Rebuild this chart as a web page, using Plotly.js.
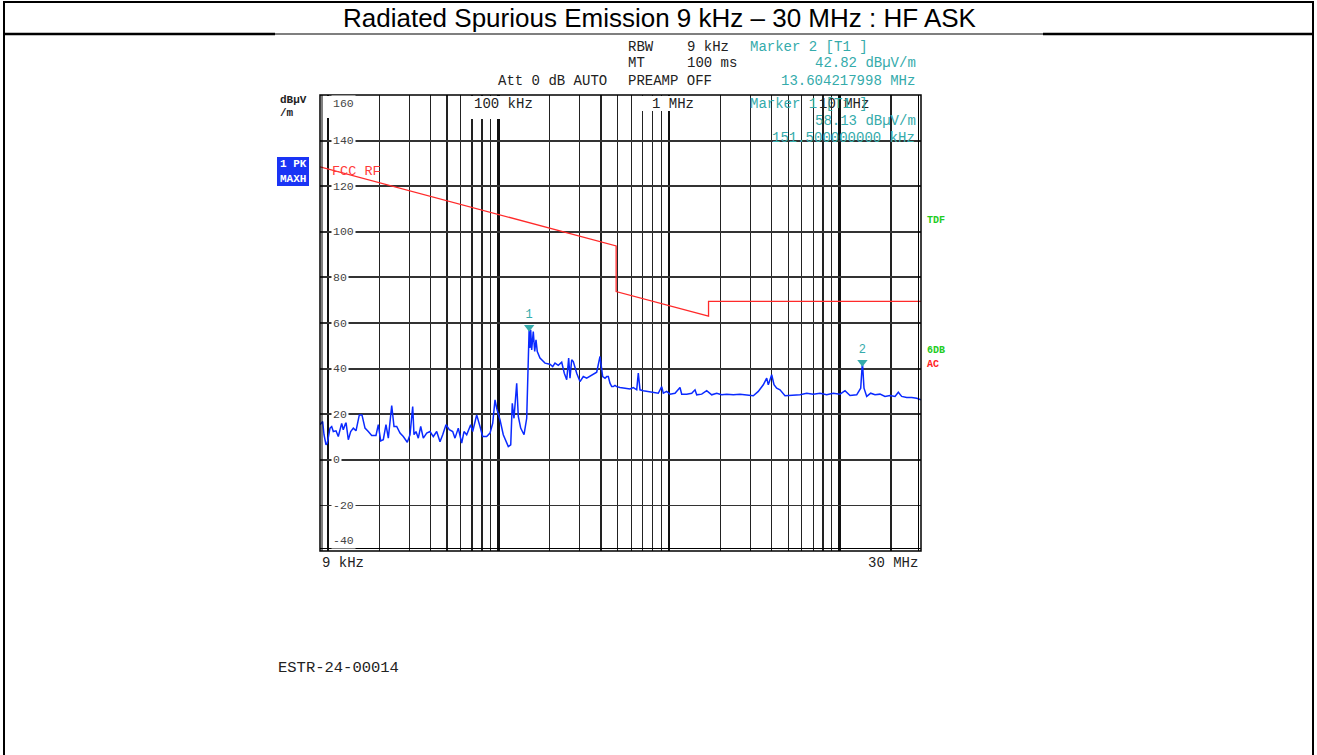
<!DOCTYPE html>
<html>
<head>
<meta charset="utf-8">
<script src="https://cdn.plot.ly/plotly-3.0.1.min.js"></script>
<style>html,body{margin:0;padding:0;background:#fff;}#chart{width:1317px;height:755px;}</style>
</head>
<body>
<div id="chart"></div>
<script>
// ---- data (frequencies in kHz, levels in dBuV/m) ----
const traceKHz = [9.00,9.33,9.50,9.76,9.93,10.30,10.54,10.77,11.17,11.52,12.06,12.32,12.78,13.19,13.62,14.11,14.63,15.30,15.86,16.52,17.27,18.08,19.16,19.77,20.42,21.15,21.93,22.63,23.69,24.44,25.34,26.50,27.70,29.24,30.32,31.45,32.01,32.88,33.92,35.04,36.29,37.99,39.72,41.53,43.48,45.46,47.15,49.29,51.54,53.96,55.66,58.19,60.93,62.85,65.18,68.80,70.68,74.60,78.00,80.89,85.38,89.27,92.59,95.51,97.73,102.2,106.8,110.8,114.3,118.1,120.6,123.4,128.0,130.8,135.1,141.3,146.5,151.5,153.0,154.6,156.7,160.1,163.2,166.1,169.0,175.3,187.6,200.6,208.1,214.6,224.4,235.0,243.4,251.4,258.2,262.8,268.9,274.8,287.7,300.8,314.5,329.2,352.2,376.8,394.0,408.6,421.5,431.3,440.7,450.9,461.4,471.5,482.4,493.6,516.1,552.1,590.7,617.6,646.6,660.7,676.1,706.8,756.2,808.9,865.4,906.1,925.9,969.4,1013.6,1084.3,1160,1187,1270,1358.6,1420.4,1453.4,1554.8,1663.3,1779.4,1903.7,2036.6,2178.7,2381.8,2607.2,2853.8,3119.9,3337.7,3570.6,3738,3819.7,3999.2,4125.2,4278.2,4473.2,4785.5,5238.6,5860.5,6414.4,7011.8,7674.2,8400.9,9184.5,10055,10757,11509,12596,13295,13604.2,13901,14417,15216,16126,17253,18458,19749,21129,22091,23110,24736,26461,28311,30000];
const traceDb = [15.4,16.8,11.0,6.6,7.3,13.9,14.6,12.4,12.7,10.2,16.0,13.2,16.5,8.8,12.4,13.9,12.7,19.7,19.7,13.9,12.4,10.7,10.7,15.4,8.3,8.8,15.4,9.5,23.8,14.6,14.6,11.7,10.2,7.7,11.0,23.4,11.0,12.4,9.5,14.6,9.5,11.7,12.4,10.2,12.4,7.9,11.0,15.4,13.2,12.4,9.5,13.9,7.3,12.4,11.0,15.4,12.4,19.7,14.6,10.2,10.2,11.7,16.0,26.3,22.6,17.5,11.0,8.0,5.8,6.6,24.8,18.2,33.6,19.0,13.9,11.0,18.2,58.13,49.0,57.0,48.2,56.3,47.5,52.6,47.5,44.6,42.4,41.9,40.9,42.4,41.4,42.8,38.0,35.1,44.6,35.8,43.9,43.1,38.0,34.3,36.5,35.8,37.3,38.4,45.3,36.5,35.8,36.5,36.5,33.6,32.1,32.1,32.6,32.1,31.7,31.4,31.1,31.7,30.7,38.0,30.7,30.3,30.0,29.5,29.2,32.1,29.2,30.0,28.8,29.2,31.7,28.8,28.8,29.2,30.7,28.5,28.8,30.3,28.5,29.2,28.5,28.8,28.5,28.8,28.5,28.1,30.0,32.9,35.8,32.9,37.3,32.9,31.4,30.7,28.1,28.2,28.5,29.2,28.8,29.2,28.5,29.2,28.8,30.3,28.2,28.5,31.4,42.82,31.4,27.8,29.2,28.5,28.8,27.8,28.2,27.8,29.6,27.8,27.3,27.3,27.0,26.3];
const limitKHz = [9, 490, 490, 1705, 1705, 30000];
const limitDb = [128.5, 93.8, 73.8, 63.0, 69.5, 69.5];
const markerKHz = [151.5, 13604.217998];
const markerDb = [58.13, 42.82];
const markerLabels = ['1', '2'];
const decadeTicksHz = [1e4, 1e5, 1e6, 1e7];
const minorTicksHz = [2e4,3e4,4e4,5e4,6e4,7e4,8e4,9e4,2e5,3e5,4e5,5e5,6e5,7e5,8e5,9e5,2e6,3e6,4e6,5e6,6e6,7e6,8e6,9e6,2e7,3e7];
const yTickVals = [160,140,120,100,80,60,40,20,0,-20,-40];

// ---- geometry helpers (pixel -> paper) ----
const L = 320, R = 921, T = 95, B = 551;
const P = x => (x - L) / (R - L);
const Q = y => (B - y) / (B - T);

const mono = 'Liberation Mono, Courier New, monospace';
const teal = '#35abab';

const traces = [
  {x: limitKHz.map(v => v * 1000), y: limitDb, mode: 'lines', line: {color: '#ff2a2a', width: 1.3}, hoverinfo: 'skip'},
  {x: traceKHz.map(v => v * 1000), y: traceDb, mode: 'lines', line: {color: '#0a2aff', width: 1.5}, hoverinfo: 'skip'},
  {x: markerKHz.map(v => v * 1000), y: markerDb, mode: 'markers+text', text: markerLabels,
   textposition: 'top center', textfont: {family: mono, size: 12, color: teal},
   marker: {symbol: 'triangle-down', size: 9, color: teal}, hoverinfo: 'skip'}
];

const ann = [];
function txt(text, x, y, opts) {
  ann.push(Object.assign({text: text, x: P(x), y: Q(y), xref: 'paper', yref: 'paper', showarrow: false,
    xanchor: 'left', yanchor: 'middle', font: {family: mono, size: 14, color: '#222'}}, opts || {}));
}
// title
txt('Radiated Spurious Emission 9 kHz – 30 MHz : HF ASK', 660, 18, {xanchor: 'center', font: {family: 'Liberation Sans, Arial, sans-serif', size: 26, color: '#000'}});
// header
txt('RBW', 626, 46.5); txt('9 kHz', 685, 46.5);
txt('Marker 2 [T1 ]', 748, 46.5, {font: {family: mono, size: 14, color: teal}});
txt('MT', 626, 63.3); txt('100 ms', 685, 63.3);
txt('42.82 dBµV/m', 918, 63.3, {xanchor: 'right', font: {family: mono, size: 14, color: teal}});
txt('Att 0 dB AUTO', 496, 80.5); txt('PREAMP OFF', 626, 80.5);
txt('13.604217998 MHz', 917, 80.5, {xanchor: 'right', font: {family: mono, size: 14, color: teal}});
// inside plot top
txt('100 kHz', 472, 104);
txt('1 MHz', 650, 104);
txt('10 MHz', 817, 104);
txt('Marker 1 [T1 ]', 748, 104, {font: {family: mono, size: 14, color: teal}});
txt('58.13 dBµV/m', 918, 120.5, {xanchor: 'right', font: {family: mono, size: 14, color: teal}});
txt('151.500000000 kHz', 917, 137.5, {xanchor: 'right', font: {family: mono, size: 14, color: teal}});
// bottom
txt('9 kHz', 320, 563);
txt('30 MHz', 920, 563, {xanchor: 'right'});
txt('ESTR-24-00014', 276, 668, {font: {family: mono, size: 15.5, color: '#222'}});
// left
txt('<b>dBµV</b>', 278, 100, {font: {family: mono, size: 11, color: '#222'}});
txt('<b>/m</b>', 278, 113, {font: {family: mono, size: 11, color: '#222'}});
txt('<b>1 PK</b>', 278, 164, {font: {family: mono, size: 11, color: '#fff'}});
txt('<b>MAXH</b>', 278, 179, {font: {family: mono, size: 11, color: '#fff'}});
txt('FCC RF', 330, 171, {font: {family: mono, size: 13.5, color: '#ff3a3a'}});
// right
txt('<b>TDF</b>', 925, 220, {font: {family: mono, size: 10, color: '#22cc22'}});
txt('<b>6DB</b>', 925, 350, {font: {family: mono, size: 10, color: '#22cc22'}});
txt('<b>AC</b>', 925, 364, {font: {family: mono, size: 10, color: '#ff2222'}});
// y tick labels
yTickVals.forEach(v => {
  let ys = 0;
  if (v === 160) ys = -8;
  if (v === -40) ys = 11;
  ann.push({text: String(v), x: P(331), xref: 'paper', y: v, yref: 'y', yshift: ys, showarrow: false,
    xanchor: 'left', yanchor: 'middle', bgcolor: '#fff', borderpad: 1,
    font: {family: mono, size: 11.5, color: '#444'}});
});

const shapes = [
  // masks under top labels
  {type: 'rect', xref: 'paper', yref: 'paper', x0: P(466), x1: P(531), y0: Q(119), y1: Q(96), fillcolor: '#fff', line: {width: 0}, layer: 'above'},
  {type: 'rect', xref: 'paper', yref: 'paper', x0: P(639), x1: P(695), y0: Q(111), y1: Q(96), fillcolor: '#fff', line: {width: 0}, layer: 'above'},
  {type: 'rect', xref: 'paper', yref: 'paper', x0: P(326), x1: P(348), y0: Q(118), y1: Q(96), fillcolor: '#fff', line: {width: 0}, layer: 'above'},
  // plot frame
  {type: 'rect', xref: 'paper', yref: 'paper', x0: 0, x1: 1, y0: 0, y1: 1, line: {color: '#000', width: 1.5}, layer: 'above'},
  {type: 'line', xref: 'paper', yref: 'paper', x0: P(918.5), x1: P(918.5), y0: 0, y1: 1, line: {color: '#000', width: 1}, layer: 'above'},
  {type: 'line', xref: 'paper', yref: 'paper', x0: 0, x1: 1, y0: Q(548.5), y1: Q(548.5), line: {color: '#000', width: 1}, layer: 'above'},
  {type: 'line', xref: 'paper', yref: 'paper', x0: P(322), x1: P(322), y0: 0, y1: 1, line: {color: '#000', width: 1}, layer: 'above'},
  // 1 PK box
  {type: 'rect', xref: 'paper', yref: 'paper', x0: P(277), x1: P(309), y0: Q(186), y1: Q(157), fillcolor: '#1a34f5', line: {width: 0}, layer: 'below'},
  // outer page frame
  {type: 'rect', xref: 'paper', yref: 'paper', x0: P(4), x1: P(1313), y0: Q(762), y1: Q(2), line: {color: '#000', width: 2}, layer: 'above'},
  {type: 'line', xref: 'paper', yref: 'paper', x0: P(4), x1: P(1313), y0: Q(34), y1: Q(34), line: {color: '#000', width: 1.2}, layer: 'above'},
  {type: 'line', xref: 'paper', yref: 'paper', x0: P(4), x1: P(275), y0: Q(34), y1: Q(34), line: {color: '#000', width: 2.5}, layer: 'above'},
  {type: 'line', xref: 'paper', yref: 'paper', x0: P(1043), x1: P(1313), y0: Q(34), y1: Q(34), line: {color: '#000', width: 2.5}, layer: 'above'}
];

const layout = {
  width: 1317, height: 755,
  margin: {l: L, r: 1317 - R, t: T, b: 755 - B, pad: 0},
  paper_bgcolor: '#fff', plot_bgcolor: '#fff',
  showlegend: false,
  xaxis: {type: 'log', range: [Math.log10(9e3), Math.log10(3e7)], tickmode: 'array', tickvals: decadeTicksHz,
    showticklabels: false, ticks: '', showgrid: true, gridcolor: '#111', gridwidth: 2.5, zeroline: false, showline: false,
    minor: {tickmode: 'array', tickvals: minorTicksHz, showgrid: true, gridcolor: '#222', gridwidth: 1.3, ticks: ''}},
  yaxis: {range: [-40, 160], tickmode: 'array', tickvals: yTickVals, showticklabels: false, ticks: '',
    showgrid: true, gridcolor: '#333', gridwidth: 1.8, zeroline: false, showline: false},
  annotations: ann,
  shapes: shapes
};

Plotly.newPlot('chart', traces, layout, {staticPlot: true, displayModeBar: false});
</script>
</body>
</html>
